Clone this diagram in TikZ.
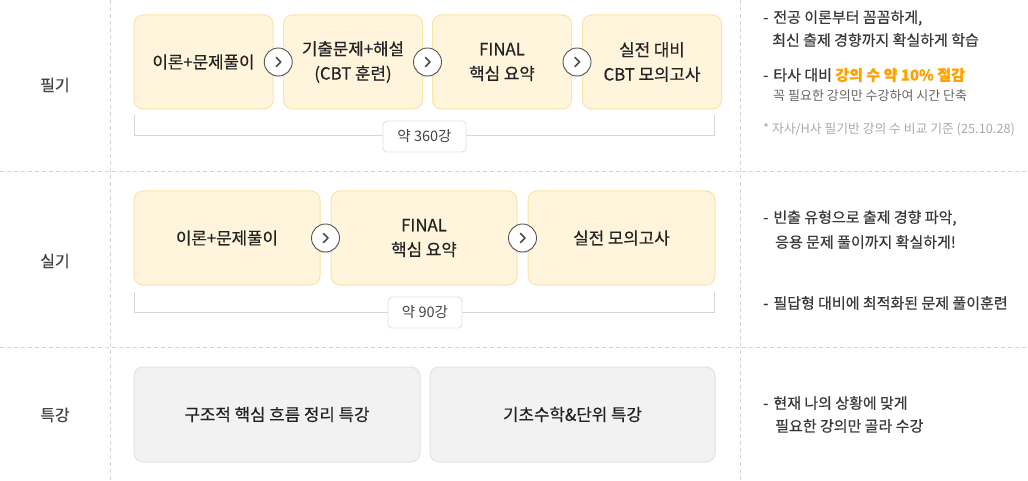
\documentclass[tikz,border=0pt]{standalone}
\usepackage{fontspec}
\setmainfont{Noto Sans CJK KR}
\newfontfamily\medfont[FakeBold=0.45]{Noto Sans CJK KR}
\usetikzlibrary{calc,shadows}
\definecolor{boxfill}{HTML}{FFF5DC}
\definecolor{boxline}{HTML}{FCE4A4}
\definecolor{grayfill}{HTML}{F2F2F2}
\definecolor{grayline}{HTML}{E2E2E2}
\definecolor{txt}{HTML}{222222}
\definecolor{dashc}{HTML}{D4D4D4}
\definecolor{brk}{HTML}{D6D6D6}
\definecolor{orangec}{HTML}{FFA200}
\definecolor{subtxt}{HTML}{666666}
\definecolor{notec}{HTML}{AAAAAA}
\definecolor{circline}{HTML}{555555}
\begin{document}
\begin{tikzpicture}[x=1pt,y=-1pt,
  stepbox/.style={draw=boxline, fill=boxfill, rounded corners=9pt, line width=1pt,
    minimum height=94pt, align=center, inner sep=0pt, text=txt,
    font=\medfont\fontsize{16.8}{24.5}\selectfont},
  graybox/.style={stepbox, draw=grayline, fill=grayfill, minimum height=95pt},
  nextbtn/.style={circle, draw=circline, fill=white, line width=0.9pt, minimum size=28pt, inner sep=0pt,
    drop shadow={opacity=0.12, shadow xshift=0pt, shadow yshift=-1.5pt}},
  chev/.style={draw=circline!90!black, line width=1.7pt, line cap=round, line join=round},
  sepline/.style={draw=dashc, line width=0.9pt, dash pattern=on 4pt off 3pt},
  bracket/.style={draw=brk, line width=1pt},
  countbox/.style={draw=grayline, fill=white, rounded corners=4pt, line width=0.9pt, minimum height=31pt,
    inner sep=0pt, text=txt!85, font=\fontsize{14.5}{17}\selectfont},
  rowlabel/.style={text=txt!85, font=\medfont\fontsize{16}{20}\selectfont, inner sep=0pt},
  desc/.style={anchor=west, inner sep=0pt, text=txt!90, font=\medfont\fontsize{15}{18}\selectfont},
  subdesc/.style={anchor=west, inner sep=0pt, text=subtxt, font=\fontsize{13}{16}\selectfont},
  note/.style={anchor=west, inner sep=0pt, text=notec, font=\fontsize{12.8}{16}\selectfont}
]
\useasboundingbox[fill=white] (0,0) rectangle (1028,481);

% separators
\draw[sepline] (110,0) -- (110,481);
\draw[sepline] (740,0) -- (740,481);
\draw[sepline] (0,171) -- (1028,171);
\draw[sepline] (0,347) -- (1028,347);

% row labels
\node[rowlabel] (lab1) at (55,85) {필기};
\node[rowlabel] (lab2) at (55,261) {실기};
\node[rowlabel] (lab3) at (55,415) {특강};

% row 1
\node[stepbox, minimum width=139pt] (a1) at (203.5,62) {이론+문제풀이};
\node[stepbox, minimum width=139pt] (a2) at (353,62) {기출문제+해설\\(CBT 훈련)};
\node[stepbox, minimum width=139pt] (a3) at (502,62) {FINAL\\핵심 요약};
\node[stepbox, minimum width=139pt] (a4) at (652,62) {실전 대비\\CBT 모의고사};
\foreach \l/\r [count=\i] in {a1/a2,a2/a3,a3/a4}{
  \node[nextbtn] (ab\i) at ($(\l.east)!0.5!(\r.west)$) {};
  \draw[chev] ([xshift=-2pt,yshift=4.5pt]ab\i.center) -- ([xshift=2.5pt]ab\i.center) -- ([xshift=-2pt,yshift=-4.5pt]ab\i.center);
}
\draw[bracket] (134,115) -- (134,136) -- (714,136) -- (714,115);
\node[countbox, minimum width=83pt] (c1) at (424.5,136.5) {약 360강};

% row 2
\node[stepbox, minimum width=186pt] (b1) at (227,238) {이론+문제풀이};
\node[stepbox, minimum width=186pt] (b2) at (424,238) {FINAL\\핵심 요약};
\node[stepbox, minimum width=187pt] (b3) at (621.5,238) {실전 모의고사};
\foreach \l/\r [count=\i] in {b1/b2,b2/b3}{
  \node[nextbtn] (bb\i) at ($(\l.east)!0.5!(\r.west)$) {};
  \draw[chev] ([xshift=-2pt,yshift=4.5pt]bb\i.center) -- ([xshift=2.5pt]bb\i.center) -- ([xshift=-2pt,yshift=-4.5pt]bb\i.center);
}
\draw[bracket] (134,292) -- (134,312) -- (714,312) -- (714,292);
\node[countbox, minimum width=74pt] (c2) at (425,312.5) {약 90강};

% row 3
\node[graybox, minimum width=286pt] (g1) at (277,414.5) {구조적 핵심 흐름 정리 특강};
\node[graybox, minimum width=285pt] (g2) at (572.5,414.5) {기초수학\&단위 특강};

% descriptions
\node[desc] (d1) at (763,18) {-\hspace{5pt}전공 이론부터 꼼꼼하게,};
\node[desc] (d2) at (772,40) {최신 출제 경향까지 확실하게 학습};
\node[desc] (d3) at (763,75) {-\hspace{5pt}타사 대비 \textcolor{orangec}{\bfseries 강의 수 약 10\% 절감}};
\node[subdesc] (d4) at (773,96) {꼭 필요한 강의만 수강하여 시간 단축};
\node[note] (d5) at (763,129) {* 자사/H사 필기반 강의 수 비교 기준 (25.10.28)};

\node[desc] (e1) at (763,218) {-\hspace{5pt}빈출 유형으로 출제 경향 파악,};
\node[desc] (e2) at (775,242) {응용 문제 풀이까지 확실하게!};
\node[desc] (e3) at (763,303) {-\hspace{5pt}필답형 대비에 최적화된 문제 풀이훈련};

\node[desc] (f1) at (763,403) {-\hspace{5pt}현재 나의 상황에 맞게};
\node[desc] (f2) at (775,426) {필요한 강의만 골라 수강};
\end{tikzpicture}
\end{document}
